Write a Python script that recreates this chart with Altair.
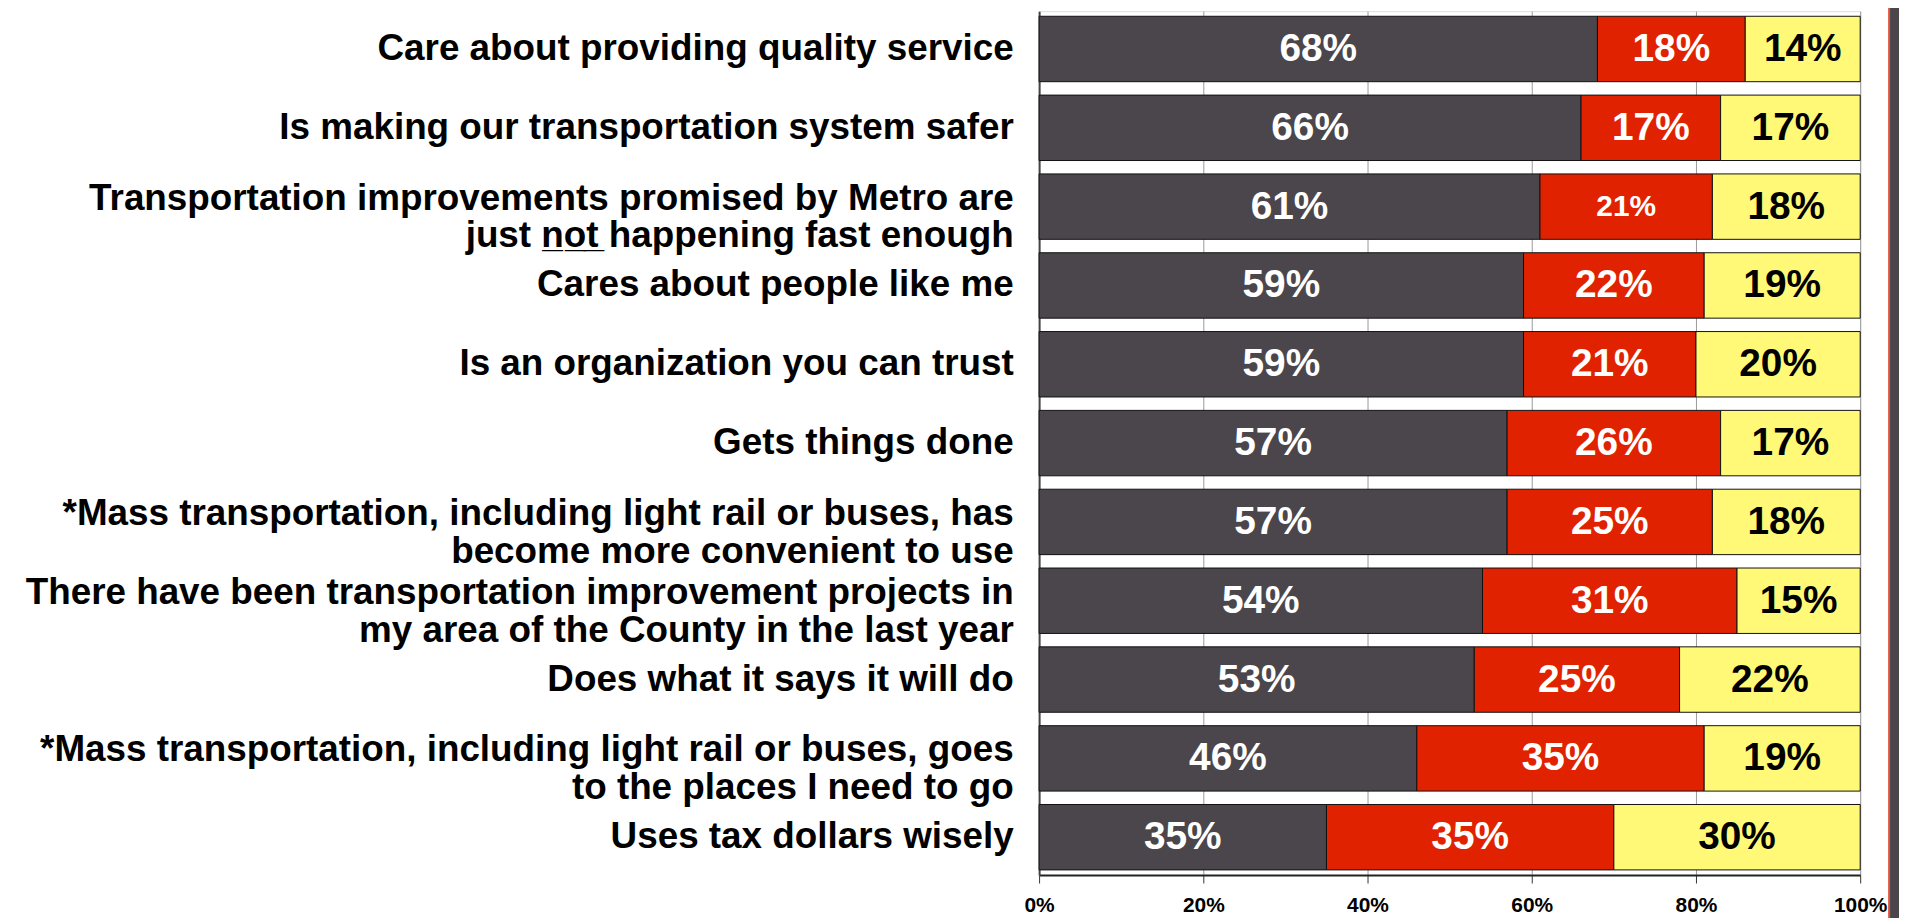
import altair as alt
import pandas as pd

categories = [
    "Care about providing quality service",
    "Is making our transportation system safer",
    "Transportation improvements promised by Metro are|just n\u0332o\u0332t\u0332 happening fast enough",
    "Cares about people like me",
    "Is an organization you can trust",
    "Gets things done",
    "*Mass transportation, including light rail or buses, has|become more convenient to use",
    "There have been transportation improvement projects in|my area of the County in the last year",
    "Does what it says it will do",
    "*Mass transportation, including light rail or buses, goes|to the places I need to go",
    "Uses tax dollars wisely",
]
agree = [68, 66, 61, 59, 59, 57, 57, 54, 53, 46, 35]
disagree = [18, 17, 21, 22, 21, 26, 25, 31, 25, 35, 35]
dont_know = [14, 17, 18, 19, 20, 17, 18, 15, 22, 19, 30]
series = ["Agree", "Disagree", "Don't know"]
colors = ["#4A464C", "#E02200", "#FFF977"]

rows = []
for i, c in enumerate(categories):
    start = 0
    for s, v in zip(series, [agree[i], disagree[i], dont_know[i]]):
        rows.append({"cat": c, "idx": i, "series": s, "value": v,
                     "start": start, "end": start + v, "mid": start + v / 2,
                     "label": f"{v}%"})
        start += v
df = pd.DataFrame(rows)

W, H = 825, 868
FONT = "Liberation Sans"

yenc = alt.Y("cat:N", sort=categories,
             scale=alt.Scale(paddingInner=0.17, paddingOuter=0.065),
             axis=alt.Axis(title=None, labelExpr="split(datum.label, '|')",
                           labelFont=FONT, labelFontSize=37,
                           labelFontWeight="bold", labelColor="#000",
                           labelLineHeight=38, labelPadding=26, labelLimit=1100,
                           labelOffset={"expr": "indexof(datum.label, '|') >= 0 ? -8 : 0"},
                           ticks=False, domain=True, domainColor="#444",
                           domainWidth=2, grid=False))

xscale = alt.Scale(domain=[0, 100], nice=False)
xaxis = alt.Axis(title=None, values=[0, 20, 40, 60, 80, 100],
                 labelExpr="datum.value + '%'", labelFont=FONT,
                 labelFontSize=21, labelFontWeight="bold", labelColor="#000",
                 labelPadding=12, tickSize=8, tickColor="#333", labelFlush=False,
                 domainColor="#222", domainWidth=2, grid=True,
                 gridColor="#999", gridWidth=1)

base = alt.Chart(df)

bars = base.mark_bar(stroke="#111", strokeWidth=1).encode(
    y=yenc,
    x=alt.X("start:Q", scale=xscale, axis=xaxis),
    x2="end:Q",
    color=alt.Color("series:N", scale=alt.Scale(domain=series, range=colors),
                    legend=None),
)

text = base.mark_text(font=FONT, fontWeight="bold",
                      baseline="middle", align="center").encode(
    y=alt.Y("cat:N", sort=categories),
    x=alt.X("mid:Q", scale=xscale),
    text="label:N",
    color=alt.condition(alt.datum.series == "Don't know",
                        alt.value("#000"), alt.value("#fff")),
    size=alt.condition((alt.datum.idx == 2) & (alt.datum.series == "Disagree"),
                       alt.value(30), alt.value(39)),
)

edge_red = alt.Chart(pd.DataFrame({"a": [0]})).mark_rule(
    color="#E02200", strokeWidth=1.5).encode(
    x=alt.value(854), y=alt.value(-9), y2=alt.value(912))
edge_dark = alt.Chart(pd.DataFrame({"a": [0]})).mark_rect(
    color="#4A464C").encode(
    x=alt.value(855), x2=alt.value(864), y=alt.value(-9), y2=alt.value(912))

chart = alt.layer(bars, text, edge_red, edge_dark).properties(
    width=W, height=H,
    autosize=alt.AutoSizeParams(type="none"),
    padding={"left": 1036, "top": 1, "right": 40, "bottom": 41},
).configure_view(stroke="#888", strokeWidth=1).configure(background="#ffffff")

chart.save("out.html", embed_options={"renderer": "svg", "actions": False})
